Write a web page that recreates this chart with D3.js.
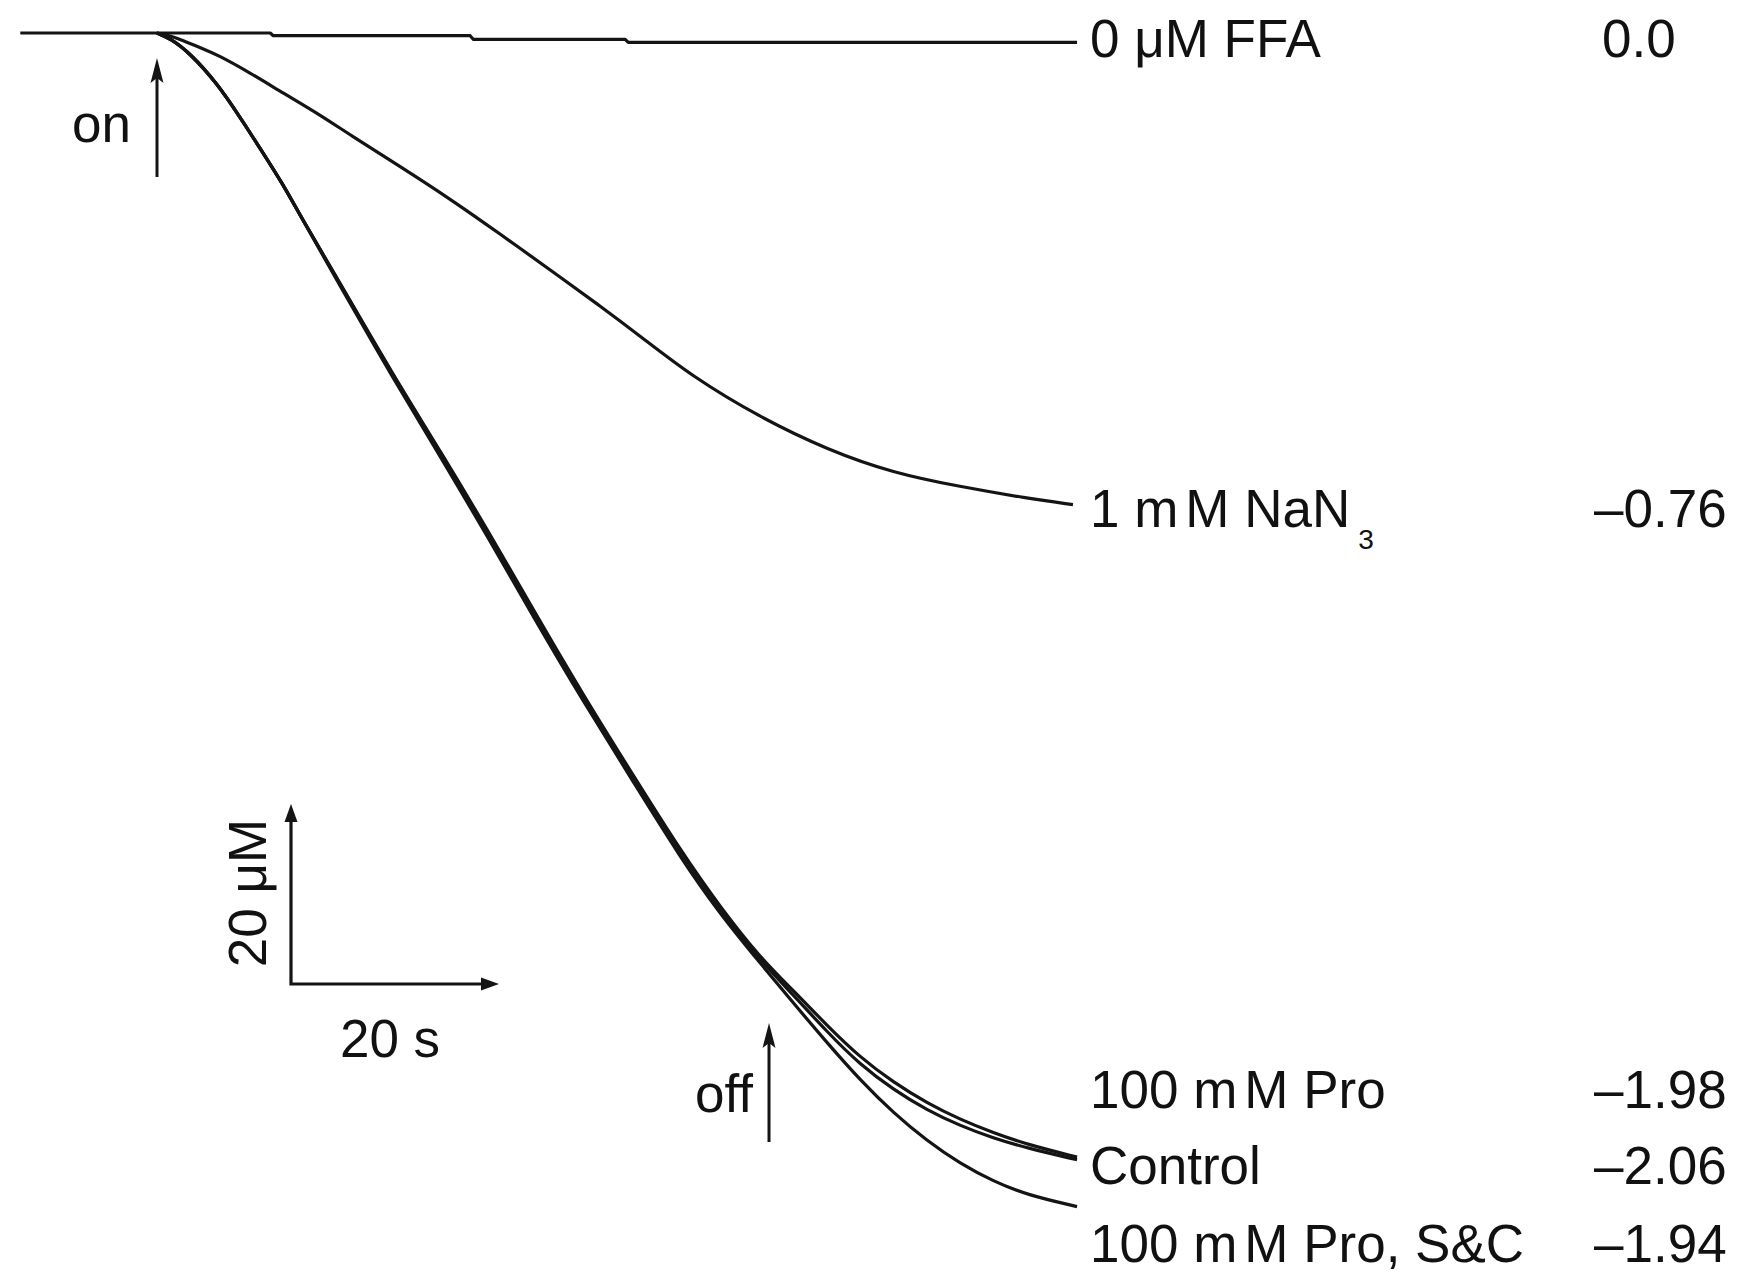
<!DOCTYPE html>
<html>
<head>
<meta charset="utf-8">
<script src="https://cdn.jsdelivr.net/npm/d3@7"></script>
<style>
  html, body { margin: 0; padding: 0; background: #fff; }
  svg { display: block; }
  text { font-family: "Liberation Sans", Arial, sans-serif; fill: #111; }
</style>
</head>
<body>
<svg id="chart" width="1744" height="1282"></svg>
<script>
// ---------------- data (time in s, concentration change in µM) ----------------
const seriesNames = ["0 μM FFA", "1 mM NaN3", "100 mM Pro", "Control", "100 mM Pro, S&C"];
const seriesRates = ["0.0", "–0.76", "–1.98", "–2.06", "–1.94"];

const tFFA = [-13.4, 11.1, 11.4, 30.7, 31.0, 45.9, 46.2, 90.2];
const vFFA = [0, 0, -0.3, -0.3, -0.7, -0.7, -1.05, -1.05];

const tNaN = [0, 1.3, 2.5, 4.2, 5.9, 9.1, 12.4, 15.7, 18.9, 23.8, 28.7, 33.6, 39.5, 43.4, 47.4, 52.5, 59.1, 65.7, 72.2, 78.7, 85.3, 89.8];
const vNaN = [0, -0.3, -0.8, -1.6, -2.4, -4.4, -6.7, -8.9, -11.3, -14.8, -18.4, -22.3, -27.1, -30.3, -33.7, -38.2, -42.7, -46.3, -48.9, -50.4, -51.7, -52.4];

const tFast = [0, 1.3, 3.2, 5.9, 8.1, 10.1, 12.4, 14.0, 17.9, 23.1, 27.8, 32.4, 36.9, 41.8, 46.7, 51.3, 55.2, 59.1, 62.4, 65.7, 68.9, 72.2, 75.5, 78.7, 82.0, 85.3, 90.2];
const vPro  = [0, -0.6, -2.2, -5.6, -9.3, -12.8, -16.9, -20.2, -27.7, -37.9, -46.5, -55.2, -64.1, -73.6, -82.5, -90.8, -97.1, -102.7, -106.4, -110.3, -113.8, -116.6, -118.9, -120.7, -122.2, -123.5, -124.9];
const vCtrl = [0, -0.6, -2.2, -5.6, -9.3, -12.8, -16.9, -20.2, -27.8, -38.0, -46.7, -55.4, -64.3, -73.8, -82.7, -91.0, -97.4, -103.0, -106.9, -111.0, -114.6, -117.4, -119.7, -121.4, -122.8, -123.9, -125.2];
const vSC   = [0, -0.6, -2.2, -5.6, -9.3, -12.8, -16.9, -20.2, -28.0, -38.3, -47.1, -55.9, -64.9, -74.3, -83.2, -91.6, -97.9, -103.3, -107.8, -112.2, -116.3, -120.0, -123.1, -125.6, -127.6, -129.1, -130.4];

const tOn = 0, tOff = 60;          // light on / off (s)
const scaleT = 20, scaleC = 20;    // scale bar: 20 s, 20 μM

// ---------------- layout ----------------
const svg = d3.select("#chart");
const x = d3.scaleLinear().domain([0, 60]).range([157, 769]);
const y = d3.scaleLinear().domain([0, -100]).range([33, 933]);

const line = d3.line().x(d => x(d[0])).y(d => y(d[1]));
const smooth = d3.line().x(d => x(d[0])).y(d => y(d[1])).curve(d3.curveBasis);
const zip = (t, v) => t.map((tt, i) => [tt, v[i]]);

const traces = [
  { data: zip(tFFA, vFFA), gen: line },
  { data: zip(tNaN, vNaN), gen: smooth },
  { data: zip(tFast, vPro), gen: smooth },
  { data: zip(tFast, vCtrl), gen: smooth },
  { data: zip(tFast, vSC), gen: smooth }
];

svg.append("g").selectAll("path").data(traces).join("path")
  .attr("d", d => d.gen(d.data))
  .attr("fill", "none")
  .attr("stroke", "#141414")
  .attr("stroke-width", 3.2)
  .attr("stroke-linejoin", "round");

// ---------------- labels on the right ----------------
const fs = 53;
const labelX = 1090, rateX = 1594;
const labelY = [57, 527, 1108, 1184, 1262];

const lab = svg.append("g").attr("font-size", fs);
seriesNames.forEach((name, i) => {
  const t = lab.append("text").attr("x", labelX).attr("y", labelY[i]);
  if (name === "1 mM NaN3") {
    t.append("tspan").text("1 m");
    t.append("tspan").attr("dx", 7).text("M NaN");
    t.append("tspan").attr("font-size", 28).attr("dy", 22).attr("dx", 8).text("3");
  } else if (name.indexOf("mM") >= 0) {
    const parts = name.split("mM");
    t.append("tspan").text(parts[0] + "m");
    t.append("tspan").attr("dx", 7).text("M" + parts[1]);
  } else {
    t.text(name);
  }
});
seriesRates.forEach((r, i) => {
  lab.append("text").attr("x", r === "0.0" ? rateX + 8 : rateX).attr("y", labelY[i]).text(r);
});

// ---------------- on / off arrows ----------------
function upArrow(g, cx, yTop, yBottom) {
  g.append("line").attr("x1", cx).attr("x2", cx).attr("y1", yTop + 12).attr("y2", yBottom)
    .attr("stroke", "#141414").attr("stroke-width", 3);
  g.append("path")
    .attr("d", `M${cx},${yTop} L${cx - 6.5},${yTop + 25} L${cx},${yTop + 20} L${cx + 6.5},${yTop + 25} Z`)
    .attr("fill", "#141414");
}
const ann = svg.append("g");
upArrow(ann, x(tOn), 58, 177);
upArrow(ann, x(tOff), 1023, 1142);
ann.append("text").attr("x", 131).attr("y", 142).attr("text-anchor", "end").attr("font-size", fs).text("on");
ann.append("text").attr("x", 753).attr("y", 1112).attr("text-anchor", "end").attr("font-size", fs).text("off");

// ---------------- scale bar ----------------
const cx0 = 291, cy0 = 984;
const sbW = x(scaleT) - x(0);
const sbH = y(-scaleC) - y(0);
const sb = svg.append("g");
sb.append("path")
  .attr("d", `M${cx0},${cy0 - sbH + 14} L${cx0},${cy0} L${cx0 + sbW - 10},${cy0}`)
  .attr("fill", "none").attr("stroke", "#141414").attr("stroke-width", 3.2);
sb.append("path")
  .attr("d", `M${cx0},${cy0 - sbH} L${cx0 - 6.5},${cy0 - sbH + 18} L${cx0 + 6.5},${cy0 - sbH + 18} Z`)
  .attr("fill", "#141414");
sb.append("path")
  .attr("d", `M${cx0 + sbW + 4},${cy0} L${cx0 + sbW - 14},${cy0 - 6.5} L${cx0 + sbW - 14},${cy0 + 6.5} Z`)
  .attr("fill", "#141414");
sb.append("text").attr("x", 390).attr("y", 1057).attr("text-anchor", "middle").attr("font-size", fs).text(scaleT + " s");
sb.append("text").attr("transform", `translate(266,${893}) rotate(-90)`)
  .attr("text-anchor", "middle").attr("font-size", fs).text(scaleC + " μM");
</script>
</body>
</html>
